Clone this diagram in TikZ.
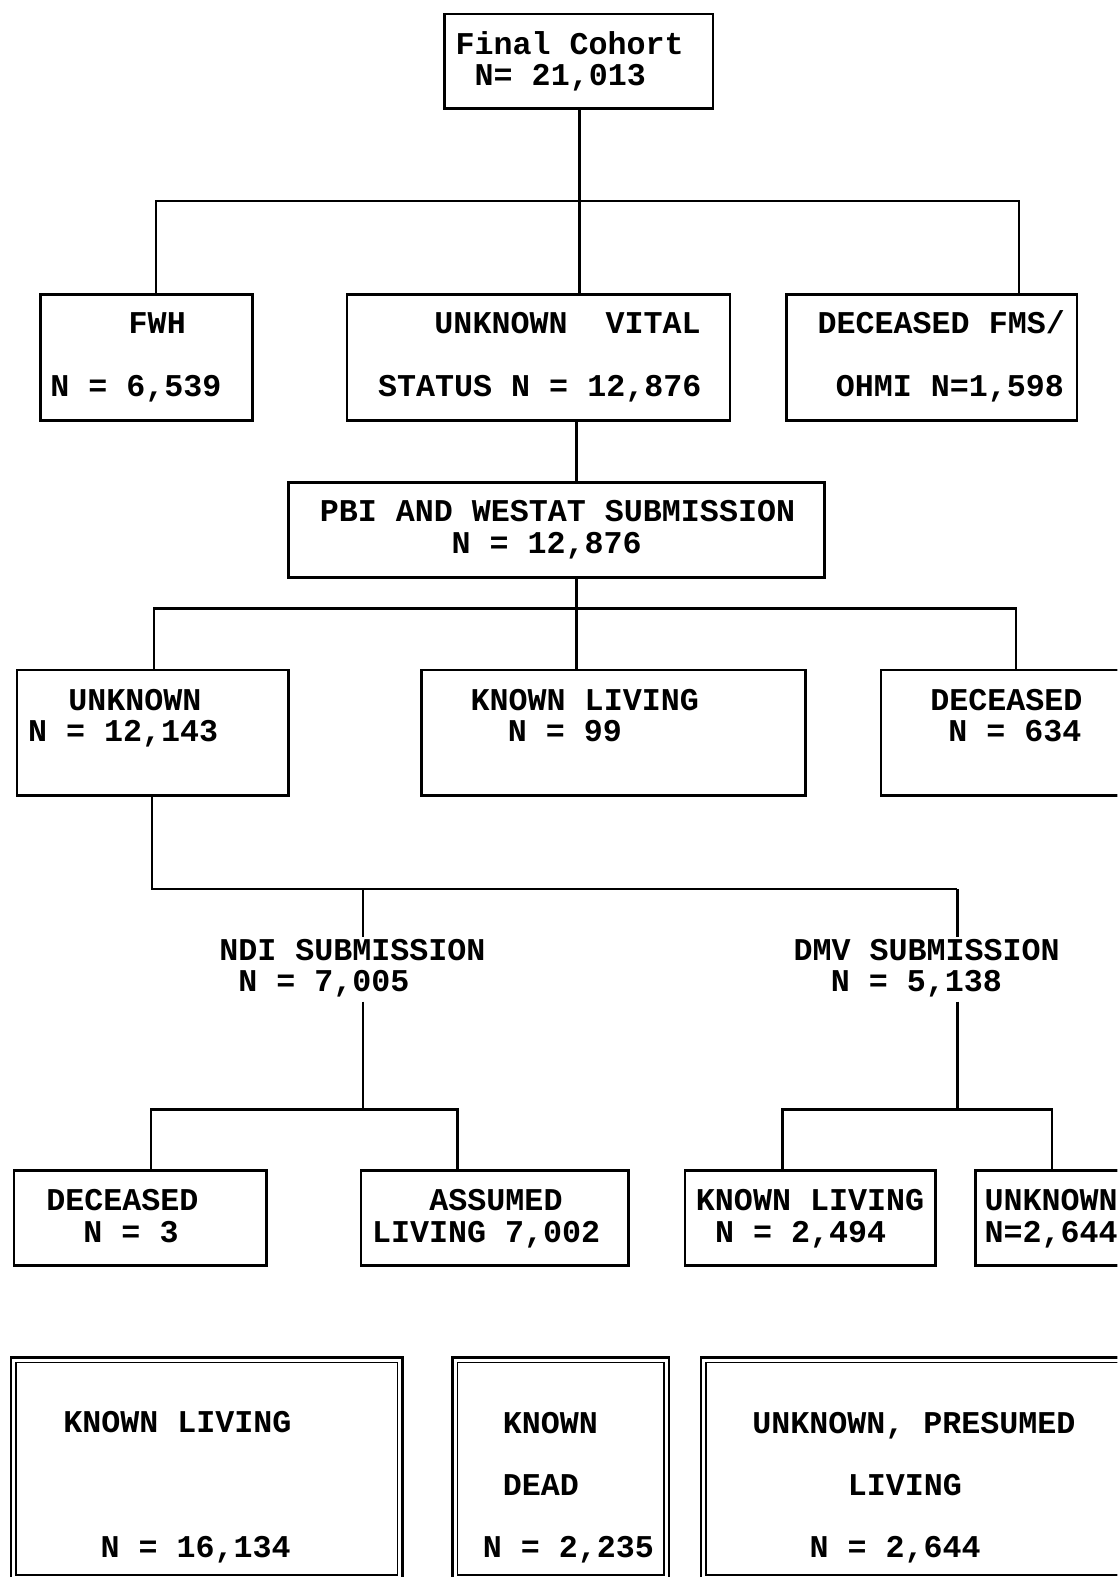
\documentclass[tikz,border=0pt]{standalone}
\usepackage{fontspec}
\setmainfont{Liberation Mono}
\begin{document}
\begin{tikzpicture}[x=1pt,y=-1pt,
  box/.style={draw, line width=2.6pt, rectangle, inner sep=0pt, outer sep=0pt},
  txt/.style={anchor=base west, inner sep=0pt, outer sep=0pt, font=\fontsize{31.5}{31.5}\selectfont\bfseries},
  ln/.style={line width=2.6pt}]
\useasboundingbox (0,0) rectangle (1111,1568);
\fill[white] (0,0) rectangle (1111,1568);
\clip (0,0) rectangle (1111,1568);

% ---------- boxes ----------
\node[box, minimum width=267pt, minimum height=94pt] (top) at (575.5,61) {};
\node[box, minimum width=211pt, minimum height=125pt] (fwh) at (145.5,355.5) {};
\node[box, minimum width=381pt, minimum height=125pt] (uvs) at (535.5,355.5) {};
\node[box, minimum width=289pt, minimum height=125pt] (fms) at (926.5,355.5) {};
\node[box, minimum width=533pt, minimum height=94pt] (pbi) at (553.5,527) {};
\node[box, minimum width=270pt, minimum height=125pt] (unk) at (152,728.5) {};
\node[box, minimum width=382pt, minimum height=125pt] (kl) at (610,728.5) {};
\node[box, minimum width=254pt, minimum height=125pt] (dec) at (1003,728.5) {};
\node[box, minimum width=251pt, minimum height=94pt] (ndec) at (139.5,1211) {};
\node[box, minimum width=266pt, minimum height=94pt] (ass) at (492,1211) {};
\node[box, minimum width=249pt, minimum height=94pt] (dkl) at (805.5,1211) {};
\node[box, minimum width=160pt, minimum height=94pt] (dunk) at (1050,1211) {};

% bottom double boxes (outer thick, inner thin)
\node[box, minimum width=389pt, minimum height=221pt] (b1) at (205.5,1460.5) {};
\node[box, minimum width=215pt, minimum height=221pt] (b2) at (557.5,1460.5) {};
\node[box, minimum width=433pt, minimum height=221pt] (b3) at (913.5,1460.5) {};
\foreach \b in {b1,b2,b3}{
  \draw[line width=1.4pt] ([shift={(5pt,-5pt)}]\b.north west) rectangle ([shift={(-5pt,5pt)}]\b.south east);
}

% ---------- texts ----------
\node[txt] (t1a) at (453,54) {Final Cohort};
\node[txt] (t1b) at (472,85) {N= 21,013};
\node[txt] (t2a) at (128,332) {FWH};
\node[txt] (t2b) at (50,394) {N = 6,539};
\node[txt] (t3a) at (432,332) {UNKNOWN\ \ VITAL};
\node[txt] (t3b) at (376,394) {STATUS N = 12,876};
\node[txt] (t4a) at (813,332) {DECEASED FMS/};
\node[txt] (t4b) at (831,394) {OHMI N=1,598};
\node[txt] (t5a) at (318,519) {PBI AND WESTAT SUBMISSION};
\node[txt] (t5b) at (449,550) {N = 12,876};
\node[txt] (t6a) at (68,706) {UNKNOWN};
\node[txt] (t6b) at (28,737) {N = 12,143};
\node[txt] (t7a) at (468,706) {KNOWN LIVING};
\node[txt] (t7b) at (505,737) {N = 99};
\node[txt] (t8a) at (925,706) {DECEASED};
\node[txt] (t8b) at (943,737) {N = 634};
\node[txt] (ndi) at (218,955) {NDI SUBMISSION};
\node[txt] (ndin) at (237,986) {N = 7,005};
\node[txt] (dmv) at (789,955) {DMV SUBMISSION};
\node[txt] (dmvn) at (826,986) {N = 5,138};
\node[txt] (t9a) at (46,1204) {DECEASED};
\node[txt] (t9b) at (83,1235) {N = 3};
\node[txt] (t10a) at (427,1204) {ASSUMED};
\node[txt] (t10b) at (370,1235) {LIVING 7,002};
\node[txt] (t11a) at (692,1204) {KNOWN LIVING};
\node[txt] (t11b) at (711,1235) {N = 2,494};
\node[txt] (t12a) at (979,1204) {UNKNOWN};
\node[txt] (t12b) at (979,1235) {N=2,644};
\node[txt] (t13a) at (63,1424) {KNOWN LIVING};
\node[txt] (t13b) at (100,1549) {N = 16,134};
\node[txt] (t14a) at (500,1425) {KNOWN};
\node[txt] (t14b) at (500,1487) {DEAD};
\node[txt] (t14c) at (480,1549) {N = 2,235};
\node[txt] (t15a) at (748,1425) {UNKNOWN, PRESUMED};
\node[txt] (t15b) at (843,1487) {LIVING};
\node[txt] (t15c) at (805,1549) {N = 2,644};

% ---------- junction coordinates ----------
\coordinate (j1) at (576,200);
\coordinate (j2) at (573,605);
\coordinate (j3) at (361,884);
\coordinate (j4) at (952,884);
\coordinate (j5) at (361,1103);
\coordinate (j6) at (952,1103);
\coordinate (ndiT) at (361,932);
\coordinate (ndiB) at (361,996);
\coordinate (dmvT) at (952,932);
\coordinate (dmvB) at (952,996);

% ---------- connectors ----------
\draw[ln] (top.south -| j1) -- (uvs.north -| j1);
\draw[ln] (fwh.north -| 155,0) |- (j1) -| (fms.north -| 1013,0);
\draw[ln] (uvs.south -| j2) -- (pbi.north -| j2);
\draw[ln] (pbi.south -| j2) -- (kl.north -| j2);
\draw[ln] (unk.north -| 153,0) |- (j2) -| (dec.north -| 1010,0);
\draw[ln] (unk.south -| 151,0) |- (j3) -- (j4);
\draw[ln] (j3) -- (ndiT);
\draw[ln] (j4) -- (dmvT);
\draw[ln] (ndiB) -- (j5);
\draw[ln] (dmvB) -- (j6);
\draw[ln] (ndec.north -| 150,0) |- (j5) -| (ass.north -| 455,0);
\draw[ln] (dkl.north -| 778,0) |- (j6) -| (dunk.north -| 1046,0);
\end{tikzpicture}
\end{document}
